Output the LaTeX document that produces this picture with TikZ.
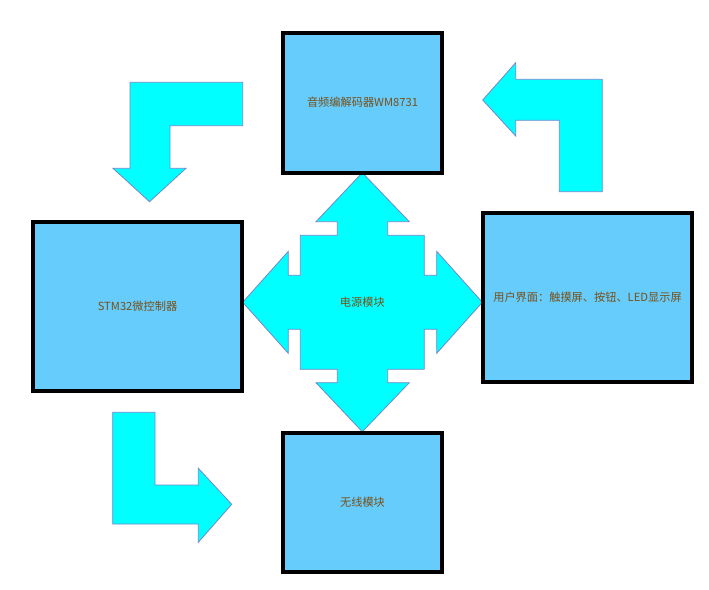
\documentclass[tikz,border=0pt]{standalone}
\usepackage{fontspec}
\setmainfont{Noto Sans CJK SC}
\definecolor{boxfill}{RGB}{102,204,252}
\definecolor{arrfill}{RGB}{0,255,255}
\definecolor{arrline}{RGB}{112,136,204}
\definecolor{txt}{RGB}{120,80,24}
\tikzset{
  blockbox/.style={draw=black, line width=3pt, fill=boxfill, text=txt,
    font=\fontsize{8.4pt}{10pt}\selectfont, inner sep=0pt},
  bigarrow/.style={draw=arrline, line width=0.6pt, fill=arrfill, line join=miter},
  lbl/.style={text=txt, font=\fontsize{8.4pt}{10pt}\selectfont, inner sep=0pt}
}
\begin{document}
\begin{tikzpicture}[x=0.75pt, y=-0.75pt]
\useasboundingbox (0,0) rectangle (709,589);
% four-way power arrow
\draw[bigarrow] (362.3,172.7) -- (409.3,221.7) -- (387.7,221.7) -- (387.7,235.3) -- (424.3,235.3) -- (424.3,275.3) -- (436.7,275.3) -- (436.7,251.3) -- (482.3,302.3) -- (436.7,353.3) -- (436.7,329.3) -- (424.3,329.3) -- (424.3,369.3) -- (387.7,369.3) -- (387.7,382.7) -- (409.3,382.7) -- (362.3,431.7) -- (316,382.7) -- (337.3,382.7) -- (337.3,369.3) -- (300.3,369.3) -- (300.3,329.3) -- (288.3,329.3) -- (288.3,353.3) -- (242.7,302.3) -- (288.3,251.3) -- (288.3,275.3) -- (300.3,275.3) -- (300.3,235.3) -- (337.3,235.3) -- (337.3,221.7) -- (316,221.7) -- cycle;
\node[lbl] (power) at (362.3,302.3) {电源模块};
% L-shaped arrows
\draw[bigarrow] (130,82.3) -- (242.7,82.3) -- (242.7,125.7) -- (170,125.7) -- (170,168.3) -- (186,168.3) -- (149.5,201.7) -- (113,168.3) -- (130,168.3) -- cycle;
\draw[bigarrow] (482.7,100) -- (515.7,62.7) -- (515.7,79.3) -- (602.3,79.3) -- (602.3,191.7) -- (559.3,191.7) -- (559.3,120.3) -- (515.7,120.3) -- (515.7,136) -- cycle;
\draw[bigarrow] (112.7,412.3) -- (155,412.3) -- (155,485) -- (198.3,485) -- (198.3,468.3) -- (231.7,504.3) -- (198.3,542.3) -- (198.3,524) -- (112.7,524) -- cycle;
% blocks
\node[blockbox, minimum width=119.25pt, minimum height=105pt] (codec) at (362.5,102.7) {音频编解码器WM8731};
\node[blockbox, minimum width=119.25pt, minimum height=104.25pt] (wireless) at (362.5,502.5) {无线模块};
\node[blockbox, minimum width=156.75pt, minimum height=126.75pt] (mcu) at (137.5,306.5) {STM32微控制器};
\node[blockbox, minimum width=156.75pt, minimum height=126.75pt] (ui) at (587.5,297) {用户界面：触摸屏、按钮、LED显示屏};
\end{tikzpicture}
\end{document}
